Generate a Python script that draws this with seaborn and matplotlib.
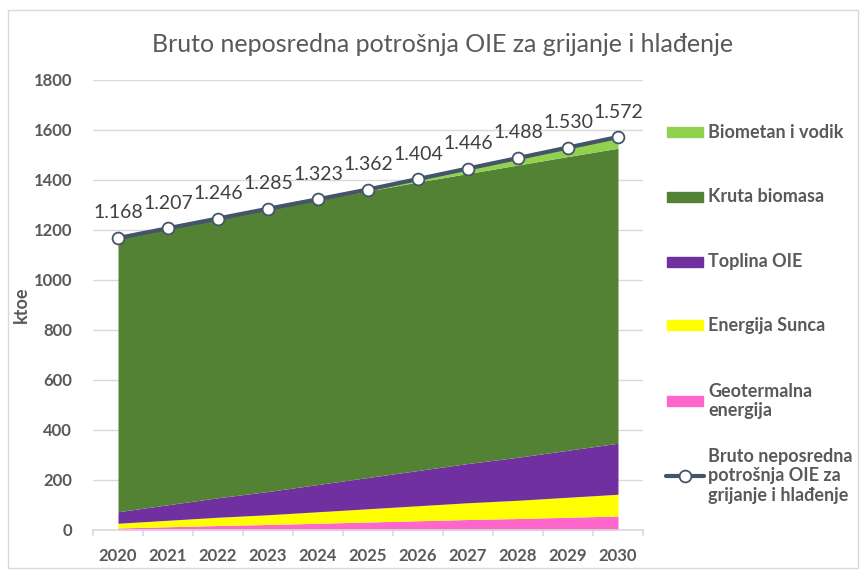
import numpy as np
import pandas as pd
import matplotlib
matplotlib.use("Agg")
import matplotlib.pyplot as plt
import seaborn as sns
from matplotlib.patches import Rectangle
from matplotlib.lines import Line2D
from matplotlib.ticker import MultipleLocator, FixedLocator

# Data (ktoe)
YEARS = [2020, 2021, 2022, 2023, 2024, 2025, 2026, 2027, 2028, 2029, 2030]
GEOTERMALNA = [8, 13, 18, 22, 27, 32, 37, 42, 46, 51, 56]
SUNCE = [19, 26, 33, 39, 46, 53, 60, 67, 73, 80, 87]
TOPLINA = [46, 62, 78, 93, 109, 125, 141, 157, 172, 188, 204]
KRUTA = [1095, 1106, 1117, 1131, 1139, 1146, 1154, 1160, 1169, 1175, 1180]
BIOMETAN = [0, 0, 0, 0, 2, 6, 12, 20, 28, 36, 45]
UKUPNO = [1168, 1207, 1246, 1285, 1323, 1362, 1404, 1446, 1488, 1530, 1572]

SERIES_LABELS = ['Geotermalna\nenergija', 'Energija Sunca', 'Toplina OIE',
                 'Kruta biomasa', 'Biometan i vodik']
SERIES_COLORS = ['#FF66CC', '#FFFF00', '#7030A0', '#548235', '#92D050']
TOTAL_LABEL = 'Bruto neposredna\npotrošnja OIE za\ngrijanje i hlađenje'
TITLE = 'Bruto neposredna potrošnja OIE za grijanje i hlađenje'

LINE_COLOR = '#44546A'
TEXT_COLOR = '#595959'
GRID_COLOR = '#D9D9D9'

sns.set_theme(style='white')
plt.rcParams['font.family'] = ['Lato', 'DejaVu Sans']

W, H = 862, 572
fig = plt.figure(figsize=(W / 100, H / 100), dpi=100)


def fx(px):
    return px / W


def fy(py):
    return 1 - py / H


ax = fig.add_axes([fx(93), fy(530), fx(643) - fx(93), fy(80) - fy(530)])

df = pd.DataFrame({'year': YEARS, 'total': UKUPNO})

# stacked areas
ax.stackplot(YEARS, GEOTERMALNA, SUNCE, TOPLINA, KRUTA, BIOMETAN,
             colors=SERIES_COLORS, linewidth=0)

# total line
sns.lineplot(data=df, x='year', y='total', ax=ax, color=LINE_COLOR,
             linewidth=3, marker='o', markersize=8.5,
             markerfacecolor='white', markeredgecolor=LINE_COLOR,
             markeredgewidth=1.3, zorder=5)

for yr, v in zip(YEARS, UKUPNO):
    ax.annotate(f"{v:,}".replace(",", "."), (yr, v), xytext=(0, 18),
                textcoords='offset points', ha='center', va='center',
                fontsize=14, color='#404040')

ax.set_xlim(2019.5, 2030.5)
ax.set_ylim(0, 1800)
ax.yaxis.set_major_locator(MultipleLocator(200))
ax.xaxis.set_major_locator(FixedLocator(YEARS))
ax.xaxis.set_minor_locator(FixedLocator([y - 0.5 for y in YEARS] + [2030.5]))
ax.grid(axis='y', color=GRID_COLOR, linewidth=1)
ax.set_axisbelow(True)
for s in ['top', 'right', 'left']:
    ax.spines[s].set_visible(False)
ax.spines['bottom'].set_color(GRID_COLOR)
ax.spines['bottom'].set_linewidth(1.2)

ax.tick_params(axis='x', which='major', length=0, pad=13,
               labelsize=12, labelcolor=TEXT_COLOR)
ax.tick_params(axis='x', which='minor', length=4, width=1.2,
               color=GRID_COLOR, bottom=True)
ax.tick_params(axis='y', length=0, pad=15, labelsize=12,
               labelcolor=TEXT_COLOR)
for lab in ax.get_xticklabels() + ax.get_yticklabels():
    lab.set_fontweight('bold')

ax.set_xlabel('')
ax.set_ylabel('ktoe', fontsize=13, fontweight='bold', color=TEXT_COLOR,
              labelpad=3)

fig.text(fx(443), fy(45), TITLE, ha='center', va='center',
         fontsize=18, color=TEXT_COLOR)

# legend drawn by hand (Excel-style spacing)
legend_rows = [(132, 4), (197, 3), (262, 2), (325, 1), (401, 0)]
for py, idx in legend_rows:
    fig.patches.append(Rectangle((fx(667), fy(py + 5)), fx(703) - fx(667),
                                 fy(py - 5) - fy(py + 5),
                                 transform=fig.transFigure,
                                 color=SERIES_COLORS[idx]))
    fig.text(fx(708), fy(py), SERIES_LABELS[idx], ha='left', va='center',
             fontsize=13, fontweight='bold', color=TEXT_COLOR,
             linespacing=1.2)

fig.lines.append(Line2D([fx(666), fx(704)], [fy(476), fy(476)],
                        transform=fig.transFigure, color=LINE_COLOR,
                        linewidth=3))
fig.lines.append(Line2D([fx(685)], [fy(476)], transform=fig.transFigure,
                        marker='o', markersize=8.5, markerfacecolor='white',
                        markeredgecolor=LINE_COLOR, markeredgewidth=1.3))
fig.text(fx(708), fy(476), TOTAL_LABEL, ha='left', va='center',
         fontsize=13, fontweight='bold', color=TEXT_COLOR, linespacing=1.2)

# chart border
fig.patches.append(Rectangle((fx(8), fy(568)), fx(858) - fx(8),
                             fy(10) - fy(568), transform=fig.transFigure,
                             fill=False, edgecolor=GRID_COLOR, linewidth=1))

fig.savefig('out.png', dpi=100)
